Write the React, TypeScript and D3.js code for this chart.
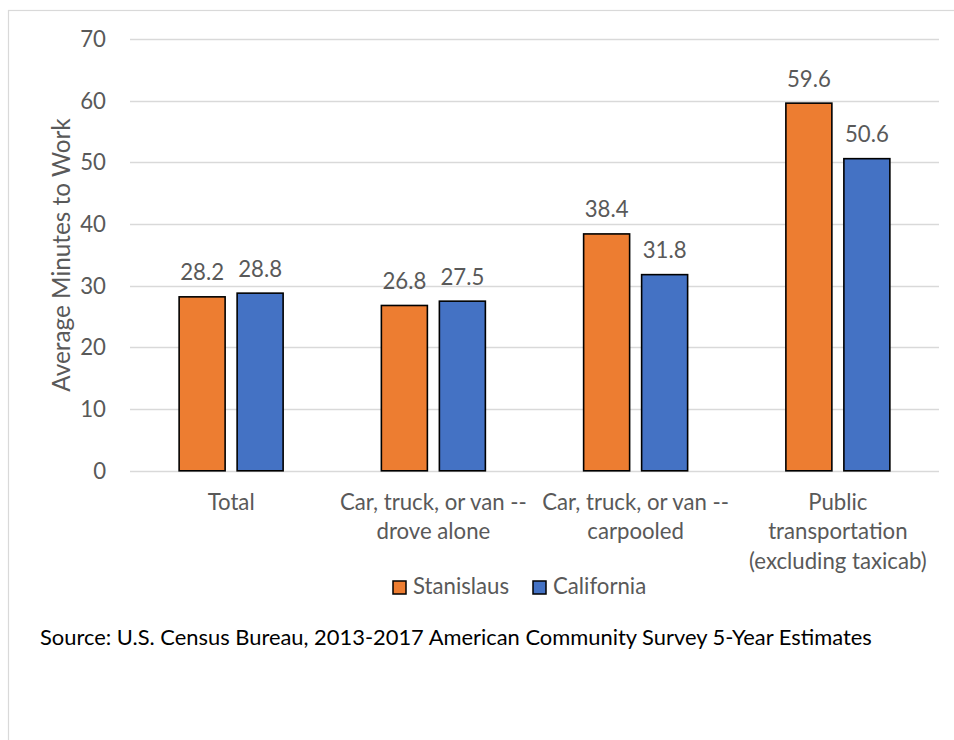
import React from "react";
import * as d3 from "d3";

const categories: string[][] = [
  ["Total"],
  ["Car, truck, or van --", "drove alone"],
  ["Car, truck, or van --", "carpooled"],
  ["Public", "transportation", "(excluding taxicab)"],
];
const seriesNames = ["Stanislaus", "California"];
const stanislaus = [28.2, 26.8, 38.4, 59.6];
const california = [28.8, 27.5, 31.8, 50.6];
const yTicks = [0, 10, 20, 30, 40, 50, 60, 70];
const yTitle = "Average Minutes to Work";
const source =
  "Source: U.S. Census Bureau, 2013-2017 American Community Survey 5-Year Estimates";

const colors = ["#ED7D31", "#4472C4"];
const FONT = "Lato, 'Open Sans', sans-serif";
const GRAY = "#595959";
const FS = 22.2;

export default function App() {
  const W = 954;
  const H = 740;
  const left = 130;
  const right = 939;
  const top = 39;
  const bottom = 470.8;

  const y = d3.scaleLinear().domain([0, 70]).range([bottom, top]);
  const x0 = d3
    .scaleBand<number>()
    .domain(d3.range(categories.length))
    .range([left, right])
    .paddingInner(0)
    .paddingOuter(0);
  const x1 = d3
    .scaleBand<number>()
    .domain(d3.range(seriesNames.length))
    .range([0, x0.bandwidth()])
    .paddingInner(0.207)
    .paddingOuter(0.847);

  const series = [stanislaus, california];

  return (
    <svg
      width={W}
      height={H}
      style={{ position: "absolute", left: 0, top: 0, display: "block" }}
      fontFamily={FONT}
    >
      <rect x={0} y={0} width={W} height={H} fill="#fff" />
      <rect
        x={8.5}
        y={10.5}
        width={W + 20}
        height={H + 20}
        fill="none"
        stroke="#d9d9d9"
        strokeWidth={1.2}
      />
      {yTicks.map((t) => (
        <g key={t}>
          <line
            x1={left}
            x2={right}
            y1={Math.round(y(t)) + 0.5}
            y2={Math.round(y(t)) + 0.5}
            stroke="#d9d9d9"
            strokeWidth={1.3}
          />
          <text
            x={106}
            y={y(t)}
            dy="0.36em"
            textAnchor="end"
            fontSize={FS}
            fill={GRAY}
          >
            {t}
          </text>
        </g>
      ))}
      <text
        transform={`translate(70,255) rotate(-90)`}
        textAnchor="middle"
        fontSize={24.3}
        fill={GRAY}
      >
        {yTitle}
      </text>
      {categories.map((cat, i) =>
        series.map((s, j) => {
          const bx = (x0(i) as number) + (x1(j) as number);
          const bw = x1.bandwidth();
          const v = s[i];
          return (
            <g key={`${i}-${j}`}>
              <rect
                x={bx}
                y={y(v)}
                width={bw}
                height={y(0) - y(v)}
                fill={colors[j]}
                stroke="#000"
                strokeWidth={1.6}
              />
              <text
                x={bx + bw / 2}
                y={y(v) - 16.5}
                textAnchor="middle"
                fontSize={FS}
                fill={GRAY}
              >
                {v.toFixed(1)}
              </text>
            </g>
          );
        })
      )}
      {categories.map((cat, i) => (
        <text
          key={i}
          x={(x0(i) as number) + x0.bandwidth() / 2}
          y={509.5}
          textAnchor="middle"
          fontSize={FS}
          fill={GRAY}
        >
          {cat.map((line, k) => (
            <tspan key={k} x={(x0(i) as number) + x0.bandwidth() / 2} dy={k === 0 ? 0 : 29.5}>
              {line}
            </tspan>
          ))}
        </text>
      ))}
      {seriesNames.map((n, j) => {
        const lx = j === 0 ? 393 : 533;
        return (
          <g key={n}>
            <rect
              x={lx}
              y={581}
              width={13}
              height={13}
              fill={colors[j]}
              stroke="#000"
              strokeWidth={1.5}
            />
            <text x={lx + 20} y={593.5} fontSize={FS} fill={GRAY}>
              {n}
            </text>
          </g>
        );
      })}
      <text x={40} y={644.5} fontSize={21.9} fill="#000">
        {source}
      </text>
    </svg>
  );
}
